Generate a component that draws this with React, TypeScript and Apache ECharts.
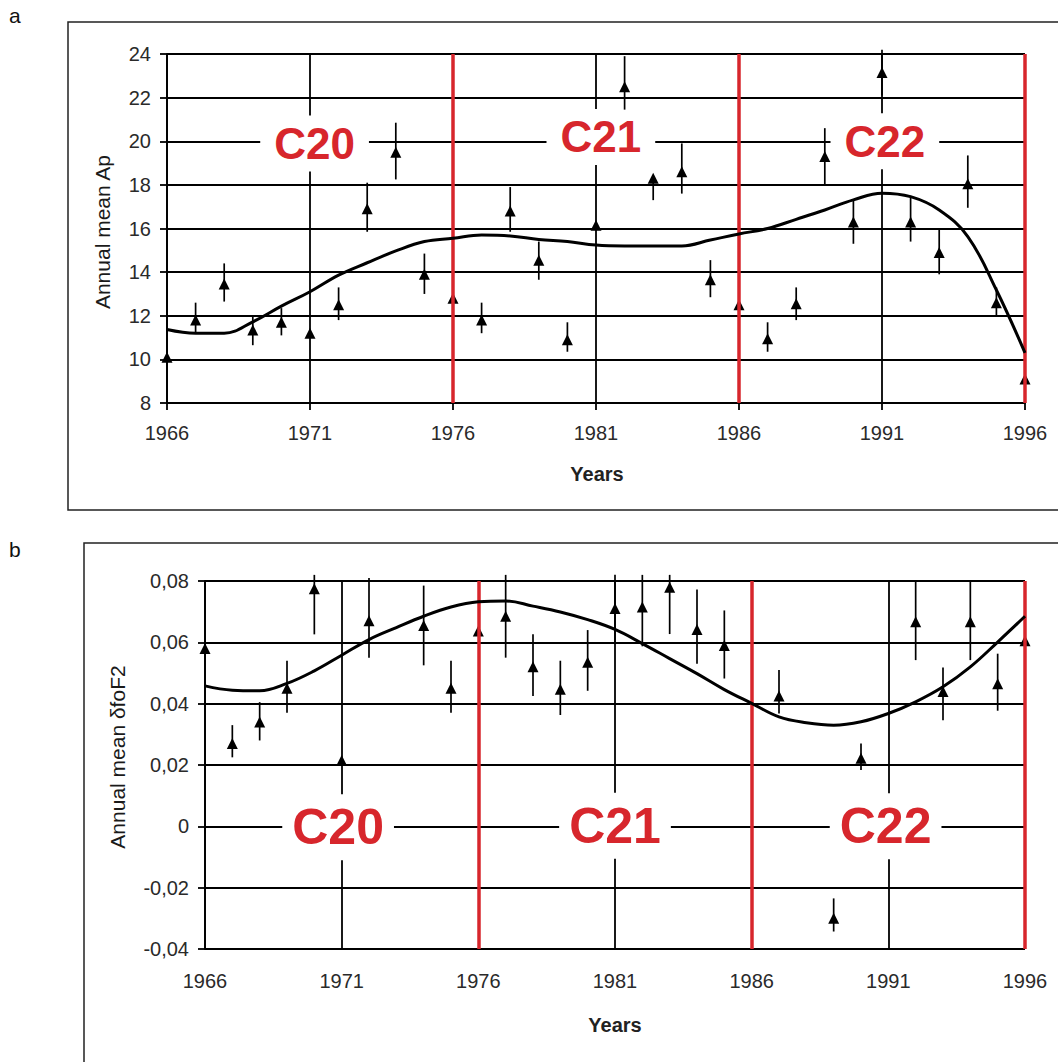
import React, { useEffect, useRef } from "react";
import * as echarts from "echarts";

const years = [1966, 1967, 1968, 1969, 1970, 1971, 1972, 1973, 1974, 1975, 1976, 1977, 1978, 1979, 1980, 1981, 1982, 1983, 1984, 1985, 1986, 1987, 1988, 1989, 1990, 1991, 1992, 1993, 1994, 1995, 1996];

// Panel a: annual mean Ap
const apValues = [10.1, 11.8, 13.45, 11.35, 11.7, 11.2, 12.5, 16.9, 19.5, 13.9, 12.8, 11.8, 16.8, 14.55, 10.9, 16.15, 22.5, 18.3, 18.6, 13.65, 12.5, 10.95, 12.55, 19.3, 16.3, 23.15, 16.3, 14.9, 18.05, 12.6, 9.1];
const apHigh = [10.1, 12.6, 14.4, 12.0, 12.35, 11.2, 13.3, 18.1, 20.85, 14.85, 12.8, 12.6, 17.9, 15.4, 11.7, 16.15, 23.9, 18.3, 19.9, 14.55, 12.5, 11.7, 13.3, 20.6, 17.3, 24.2, 17.45, 15.95, 19.35, 13.3, 9.1];
const apLow = [10.1, 11.25, 12.65, 10.65, 11.1, 11.2, 11.8, 15.85, 18.25, 13.0, 12.8, 11.2, 15.85, 13.65, 10.35, 16.15, 21.45, 17.3, 17.6, 12.85, 12.5, 10.35, 11.8, 18.0, 15.3, 22.1, 15.4, 13.9, 16.95, 11.95, 9.1];
const apFit = [11.37, 11.2, 11.2, 11.72, 12.44, 13.1, 13.86, 14.43, 14.97, 15.4, 15.55, 15.7, 15.66, 15.5, 15.4, 15.24, 15.2, 15.2, 15.2, 15.47, 15.75, 16.0, 16.42, 16.85, 17.31, 17.62, 17.46, 16.85, 15.63, 13.18, 10.3];

// Panel b: annual mean δfoF2
const dfValues = [0.058, 0.027, 0.034, 0.045, 0.0775, 0.0215, 0.067, null, 0.0655, 0.045, 0.0637, 0.0685, 0.052, 0.0447, 0.0535, 0.071, 0.0715, 0.078, 0.0642, 0.059, null, 0.0425, null, -0.03, 0.0222, null, 0.0667, 0.044, 0.0667, 0.0465, 0.0605];
const dfHigh = [0.058, 0.033, 0.0405, 0.054, 0.082, 0.0215, 0.081, null, 0.0785, 0.054, 0.0637, 0.082, 0.0626, 0.054, 0.064, 0.082, 0.082, 0.082, 0.0772, 0.0704, null, 0.051, null, -0.0235, 0.027, null, 0.08, 0.0518, 0.08, 0.0563, 0.0605];
const dfLow = [0.058, 0.0225, 0.028, 0.037, 0.0626, 0.0215, 0.055, null, 0.0525, 0.037, 0.0637, 0.055, 0.0425, 0.0363, 0.0442, 0.06, 0.0587, 0.0627, 0.053, 0.0482, null, 0.0368, null, -0.0343, 0.0184, null, 0.0542, 0.0346, 0.0542, 0.0377, 0.0605];
const dfFit = [0.0458, 0.0444, 0.0442, 0.0466, 0.0507, 0.0558, 0.0609, 0.0648, 0.0685, 0.0715, 0.0732, 0.0735, 0.0718, 0.0699, 0.0674, 0.0642, 0.0596, 0.0547, 0.0498, 0.0446, 0.0401, 0.0357, 0.0338, 0.033, 0.0341, 0.0368, 0.0406, 0.0455, 0.052, 0.0601, 0.0685];

const cycleBounds = [1976, 1986, 1996];
const cycleNames = ["C20", "C21", "C22"];
const apCyclePos = [[1971.16, 19.9], [1981.17, 20.2], [1991.1, 20.0]];
const dfCyclePos = [[1970.87, -0.0003], [1981.0, 0.0002], [1990.9, 0.0]];

const RED = "#d7262c";
const FONT = "Arial, 'Liberation Sans', sans-serif";

function fmtComma(v: number) {
  if (Math.abs(v) < 1e-9) return "0";
  return v.toFixed(2).replace(".", ",");
}

function buildPanel(
  idx: number,
  values: (number | null)[],
  hi: (number | null)[],
  lo: (number | null)[],
  fit: number[],
  cyclePos: number[][],
  labelSize: number,
  labelPad: number[]
) {
  const pts = years.map((y, i) => [y, values[i]]).filter((p) => p[1] != null);
  const bars = years
    .map((y, i) => [y, lo[i], hi[i]])
    .filter((p) => p[1] != null && p[2] != null && p[1] !== p[2]);
  const fitData = years.map((y, i) => [y, fit[i]]);
  const labels = cycleNames.map((n, i) => ({ value: cyclePos[i], name: n }));
  return [
    {
      type: "scatter",
      xAxisIndex: idx,
      yAxisIndex: idx,
      z: 2,
      symbolSize: 1,
      itemStyle: { color: "rgba(0,0,0,0)", opacity: 1 },
      data: labels,
      silent: true,
      label: {
        show: true,
        position: "inside",
        formatter: (p: any) => p.name,
        color: RED,
        opacity: 1,
        fontFamily: FONT,
        fontWeight: "bold",
        fontSize: labelSize,
        backgroundColor: "#ffffff",
        padding: labelPad,
      },
    },
    {
      type: "custom",
      xAxisIndex: idx,
      yAxisIndex: idx,
      z: 3,
      data: bars,
      renderItem: (params: any, api: any) => {
        const x = api.value(0);
        const p1 = api.coord([x, api.value(1)]);
        const p2 = api.coord([x, api.value(2)]);
        return {
          type: "line",
          shape: { x1: p1[0], y1: p1[1], x2: p2[0], y2: p2[1] },
          style: { stroke: "#000", lineWidth: 1.7 },
        };
      },
    },
    {
      type: "scatter",
      xAxisIndex: idx,
      yAxisIndex: idx,
      z: 4,
      symbol: "triangle",
      symbolSize: [11, 11],
      itemStyle: { color: "#000", opacity: 1 },
      data: pts,
    },
    {
      type: "line",
      xAxisIndex: idx,
      yAxisIndex: idx,
      z: 5,
      smooth: 0.4,
      showSymbol: false,
      lineStyle: { color: "#000", width: 3 },
      data: fitData,
      markLine: {
        silent: true,
        symbol: "none",
        label: { show: false },
        lineStyle: { color: RED, width: 3.5, type: "solid", opacity: 1 },
        data: cycleBounds.map((b) => ({ xAxis: b })),
      },
    },
  ];
}

export default function App() {
  const ref = useRef<HTMLDivElement>(null);
  useEffect(() => {
    if (!ref.current) return;
    const chart = echarts.init(ref.current, undefined, { renderer: "svg" });
    const axisText = { color: "#2a2a2a", fontFamily: FONT, fontSize: 20 };
    const xAxisCommon = {
      type: "value",
      min: 1966,
      max: 1996,
      interval: 5,
      axisLine: { show: true, lineStyle: { color: "#000", width: 1.8 } },
      axisTick: { show: true, length: 7, lineStyle: { color: "#000", width: 1.8 } },
      splitLine: { show: true, lineStyle: { color: "#000", width: 1.8 } },
      axisLabel: { ...axisText, margin: 20, formatter: (v: number) => String(Math.round(v)) },
    };
    const yAxisCommon = {
      type: "value",
      axisLine: { show: true, onZero: false, lineStyle: { color: "#000", width: 1.8 } },
      axisTick: { show: true, length: 7, lineStyle: { color: "#000", width: 1.8 } },
      splitLine: { show: true, lineStyle: { color: "#000", width: 1.8 } },
    };
    chart.setOption({
      animation: false,
      backgroundColor: "#ffffff",
      grid: [
        { left: 167, right: 33, top: 54, bottom: 659 },
        { left: 205, right: 33, top: 581, bottom: 113 },
      ],
      xAxis: [
        { ...xAxisCommon, gridIndex: 0 },
        { ...xAxisCommon, gridIndex: 1, axisLabel: { ...xAxisCommon.axisLabel, margin: 22 } },
      ],
      yAxis: [
        {
          ...yAxisCommon,
          gridIndex: 0,
          min: 8,
          max: 24,
          interval: 2,
          axisLabel: { ...axisText, margin: 16 },
        },
        {
          ...yAxisCommon,
          gridIndex: 1,
          min: -0.04,
          max: 0.08,
          interval: 0.02,
          axisLabel: { ...axisText, margin: 16, formatter: fmtComma },
        },
      ],
      graphic: [
        { type: "rect", shape: { x: 68, y: 22, width: 1010, height: 488 }, style: { fill: "none", stroke: "#222", lineWidth: 1.5 }, z: -1 },
        { type: "rect", shape: { x: 84, y: 543, width: 1000, height: 540 }, style: { fill: "none", stroke: "#222", lineWidth: 1.5 }, z: -1 },
        { type: "text", x: 9, y: 5, style: { text: "a", font: `21px ${FONT}`, fill: "#111" } },
        { type: "text", x: 9, y: 539, style: { text: "b", font: `21px ${FONT}`, fill: "#111" } },
        { type: "text", x: 102, y: 232, rotation: Math.PI / 2, style: { text: "Annual mean Ap", font: `21px ${FONT}`, fill: "#1a1a1a", textAlign: "center", textVerticalAlign: "middle" } },
        { type: "text", x: 117, y: 757, rotation: Math.PI / 2, style: { text: "Annual mean δfoF2", font: `21px ${FONT}`, fill: "#1a1a1a", textAlign: "center", textVerticalAlign: "middle" } },
        { type: "text", x: 597, y: 474, style: { text: "Years", font: `bold 20px ${FONT}`, fill: "#222", textAlign: "center", textVerticalAlign: "middle" } },
        { type: "text", x: 615, y: 1025, style: { text: "Years", font: `bold 20px ${FONT}`, fill: "#222", textAlign: "center", textVerticalAlign: "middle" } },
      ],
      series: [
        ...buildPanel(0, apValues, apHigh, apLow, apFit, apCyclePos, 44, [6, 14]),
        ...buildPanel(1, dfValues, dfHigh, dfLow, dfFit, dfCyclePos, 50, [8, 10]),
      ],
    });
    return () => chart.dispose();
  }, []);
  return (
    <div
      ref={ref}
      style={{ position: "fixed", left: 0, top: 0, width: 1058, height: 1062, background: "#fff" }}
    />
  );
}
